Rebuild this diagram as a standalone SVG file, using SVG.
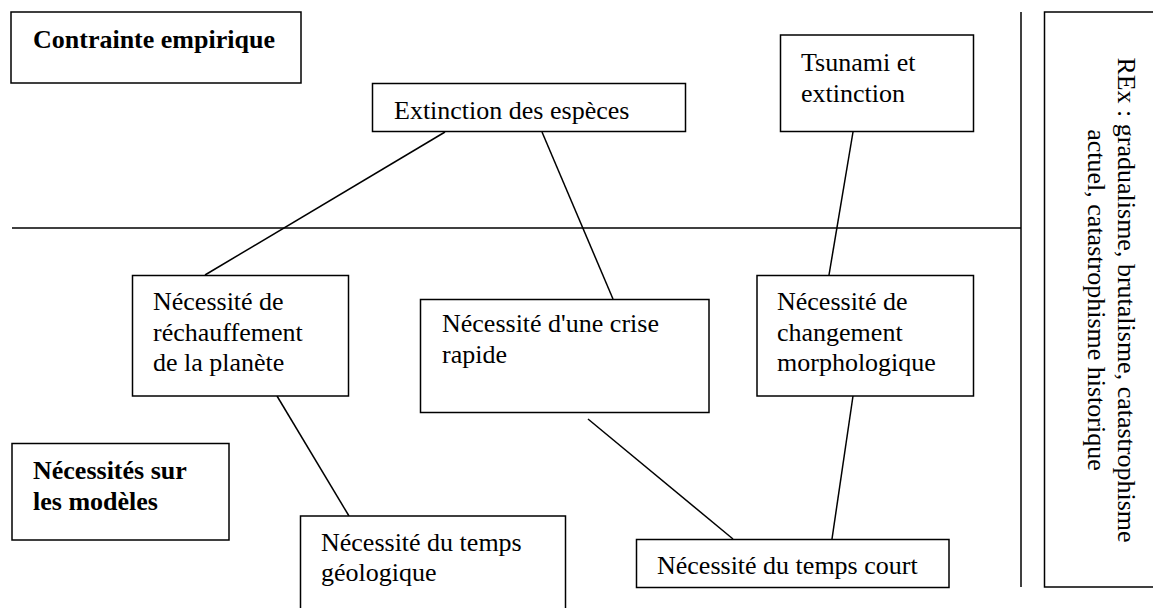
<svg xmlns="http://www.w3.org/2000/svg" width="1153" height="608" viewBox="0 0 1153 608">
<style>
.box{fill:#fff;stroke:#000;stroke-width:1.5}
.ln{stroke:#000;stroke-width:1.5;fill:none}
.t{font-family:"Liberation Serif","Times New Roman",serif;font-size:26px;fill:#000}
.b{font-weight:bold}
</style>
<rect width="1153" height="608" fill="#fff"/>
<g id="separators">
<line class="ln" x1="12" y1="228" x2="1021" y2="228"/>
<line class="ln" x1="1021" y1="12" x2="1021" y2="587"/>
</g>
<g id="connectors">
<line class="ln" x1="445" y1="132" x2="205" y2="275"/>
<line class="ln" x1="542" y1="132" x2="613" y2="299"/>
<line class="ln" x1="853" y1="132" x2="829" y2="275"/>
<line class="ln" x1="277" y1="396" x2="349" y2="516"/>
<line class="ln" x1="588" y1="419" x2="733" y2="539"/>
<line class="ln" x1="853" y1="396" x2="832" y2="539"/>
</g>
<g id="contrainte">
<rect class="box" x="11" y="12" width="290" height="71"/>
<text class="t b" x="33" y="48">Contrainte empirique</text>
</g>
<g id="extinction">
<rect class="box" x="372.5" y="83.5" width="313" height="48"/>
<text class="t" x="394" y="119">Extinction des espèces</text>
</g>
<g id="tsunami">
<rect class="box" x="780.5" y="35" width="193" height="96.5"/>
<text class="t" x="801" y="71">Tsunami et</text>
<text class="t" x="801" y="101.5">extinction</text>
</g>
<g id="rex">
<rect class="box" x="1044.5" y="12" width="130" height="575"/>
<g transform="translate(1118,300) rotate(90)">
<text class="t" x="0" y="0" text-anchor="middle">REx : gradualisme, brutalisme, catastrophisme</text>
<text class="t" x="0" y="30" text-anchor="middle">actuel, catastrophisme historique</text>
</g>
</g>
<g id="rechauffement">
<rect class="box" x="132.5" y="275.5" width="216" height="120.5"/>
<text class="t" x="153" y="310">Nécessité de</text>
<text class="t" x="153" y="340.5">réchauffement</text>
<text class="t" x="153" y="371">de la planète</text>
</g>
<g id="crise">
<rect class="box" x="420.5" y="299.5" width="288.5" height="113"/>
<text class="t" x="442" y="332">Nécessité d'une crise</text>
<text class="t" x="442" y="363">rapide</text>
</g>
<g id="changement">
<rect class="box" x="757" y="275.5" width="216.5" height="120.5"/>
<text class="t" x="777" y="310">Nécessité de</text>
<text class="t" x="777" y="340.5">changement</text>
<text class="t" x="777" y="371">morphologique</text>
</g>
<g id="necessites">
<rect class="box" x="12" y="443.5" width="217" height="96.5"/>
<text class="t b" x="33" y="479">Nécessités sur</text>
<text class="t b" x="33" y="509.5">les modèles</text>
</g>
<g id="geologique">
<rect class="box" x="300.5" y="516" width="265" height="110"/>
<text class="t" x="321" y="551">Nécessité du temps</text>
<text class="t" x="321" y="581">géologique</text>
</g>
<g id="court">
<rect class="box" x="636.5" y="539.5" width="312.5" height="48"/>
<text class="t" x="657" y="574">Nécessité du temps court</text>
</g>
</svg>
